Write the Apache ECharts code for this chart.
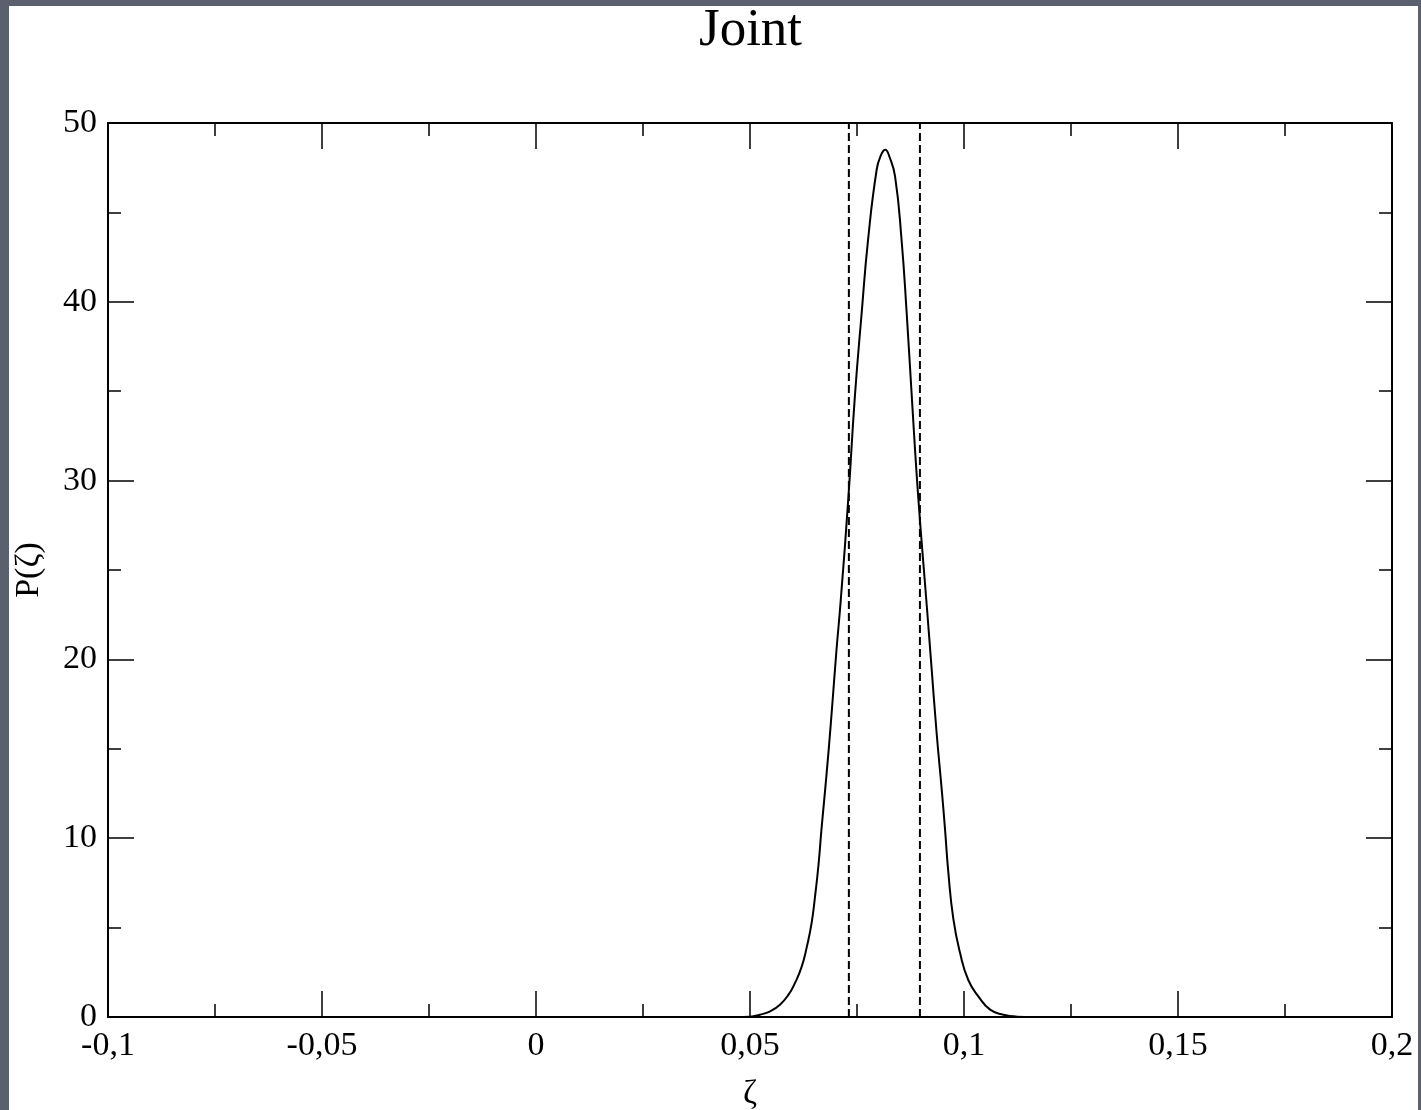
<!DOCTYPE html>
<html>
<head>
<meta charset="utf-8">
<script src="https://cdn.jsdelivr.net/npm/echarts@6/dist/echarts.min.js"></script>
<style>
html,body{margin:0;padding:0;width:1421px;height:1110px;overflow:hidden;background:#5b606e;}
#panel{position:absolute;left:9px;top:6px;width:1409px;height:1104px;background:#ffffff;}
#chart{position:absolute;left:0;top:0;width:1421px;height:1110px;}
</style>
</head>
<body>
<div id="panel"></div>
<div id="chart"></div>
<script>
// Data
const titleText = "Joint";
const xName = "ζ";
const yName = "P(ζ)";
const zeta = [-0.1, 0.0, 0.040, 0.046, 0.0500, 0.0523, 0.0547, 0.0570, 0.0590, 0.0605, 0.0621, 0.0633, 0.0644, 0.0652, 0.0660, 0.0667, 0.0674, 0.0684, 0.0693, 0.0702, 0.0712, 0.0730, 0.0745, 0.0761, 0.0776, 0.0796, 0.0806, 0.0816, 0.0826, 0.0839, 0.0854, 0.0866, 0.0878, 0.0893, 0.0913, 0.0924, 0.0936, 0.0948, 0.0956, 0.0963, 0.0975, 0.0991, 0.1010, 0.1034, 0.1061, 0.1092, 0.1123, 0.1160, 0.2];
const prob  = [0, 0, 0, 0.003, 0.02, 0.13, 0.32, 0.69, 1.25, 1.9, 2.83, 3.95, 5.26, 6.75, 8.5, 10.5, 12.3, 15.0, 17.7, 20.5, 23.3, 29.1, 34.7, 39.4, 43.5, 47.4, 48.2, 48.5, 48.1, 47.0, 43.5, 39.4, 34.7, 29.1, 23.0, 19.6, 15.9, 12.7, 10.4, 8.2, 5.5, 3.56, 2.07, 1.14, 0.41, 0.13, 0.02, 0, 0];
const intervalBounds = [0.0731, 0.0897];
const xTicks = {min: -0.1, max: 0.2, interval: 0.05};
const yTicks = {min: 0, max: 50, interval: 10};

const font = '"Liberation Serif", "DejaVu Serif", serif';
const fmt = v => String(+v.toFixed(4)).replace('.', ',');

const chart = echarts.init(document.getElementById('chart'), null, {renderer: 'canvas'});
const tickLine = {color: '#000', width: 1.5};
const baseX = {
  type: 'value', min: xTicks.min, max: xTicks.max, interval: xTicks.interval,
  axisLine: {show: true, onZero: false, lineStyle: {color: '#000', width: 2}},
  axisTick: {show: true, inside: true, length: 26, lineStyle: tickLine},
  minorTick: {show: true, splitNumber: 2, length: 13, lineStyle: tickLine},
  splitLine: {show: false}, minorSplitLine: {show: false}
};
const baseY = {
  type: 'value', min: yTicks.min, max: yTicks.max, interval: yTicks.interval,
  axisLine: {show: true, onZero: false, lineStyle: {color: '#000', width: 2}},
  axisTick: {show: true, inside: true, length: 26, lineStyle: tickLine},
  minorTick: {show: true, splitNumber: 2, length: 13, lineStyle: tickLine},
  splitLine: {show: false}, minorSplitLine: {show: false}
};
const pts = zeta.map((z, i) => [z, prob[i]]);
const boundSeries = intervalBounds.map(v => ({
  type: 'line', xAxisIndex: 0, yAxisIndex: 0, silent: true,
  data: [[v, yTicks.min], [v, yTicks.max]], showSymbol: false,
  lineStyle: {color: '#000', width: 2, type: [8, 4]}
}));

chart.setOption({
  animation: false,
  backgroundColor: 'transparent',
  title: {
    text: titleText, left: 694, top: 0,
    textStyle: {fontFamily: font, fontSize: 53, fontWeight: 'normal', color: '#000'}
  },
  grid: {left: 108, right: 29, top: 123, bottom: 93, containLabel: false, outerBoundsMode: 'none'},
  xAxis: [
    Object.assign({}, baseX, {
      position: 'bottom', name: xName, nameLocation: 'middle', nameGap: 60,
      nameTextStyle: {fontFamily: font, fontSize: 34, color: '#000'},
      axisLabel: {show: true, margin: 12, formatter: fmt, fontFamily: font, fontSize: 34, color: '#000'}
    }),
    Object.assign({}, baseX, {position: 'top', axisLabel: {show: false}})
  ],
  yAxis: [
    Object.assign({}, baseY, {
      position: 'left', name: yName, nameLocation: 'middle', nameGap: 62, nameRotate: 90,
      nameTextStyle: {fontFamily: font, fontSize: 34, color: '#000'},
      axisLabel: {show: true, margin: 11, formatter: fmt, fontFamily: font, fontSize: 34, color: '#000'}
    }),
    Object.assign({}, baseY, {position: 'right', axisLabel: {show: false}})
  ],
  series: [{
    type: 'line', xAxisIndex: 0, yAxisIndex: 0,
    data: pts, showSymbol: false, smooth: 0.5,
    lineStyle: {color: '#000', width: 2}
  }].concat(boundSeries)
});
</script>
</body>
</html>
